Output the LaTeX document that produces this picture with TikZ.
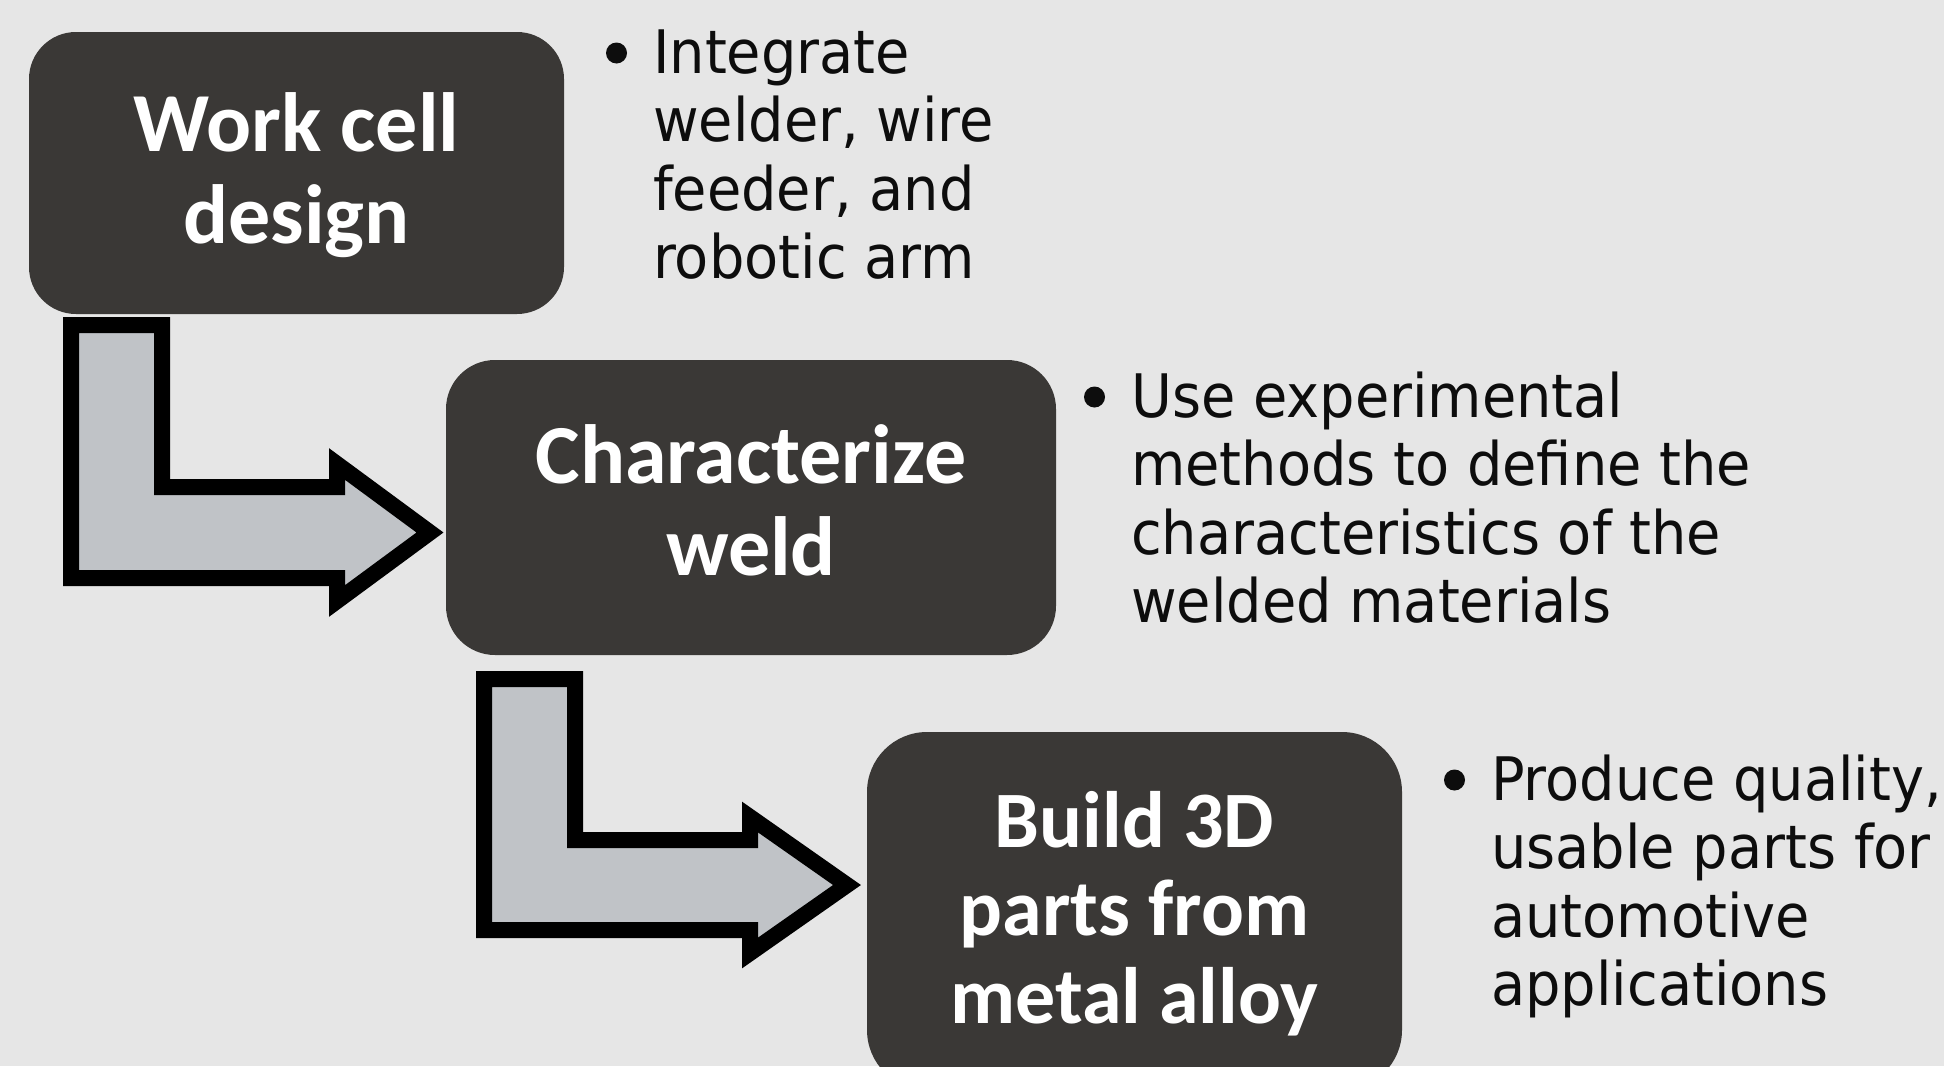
\documentclass[tikz,border=0pt]{standalone}
\usepackage{fontspec}
\newfontfamily\boxfont{Carlito}
\newfontfamily\bulletfont{DejaVu Sans}[FakeStretch=0.93]
\definecolor{bgc}{HTML}{E6E6E6}
\definecolor{boxc}{HTML}{3A3836}
\definecolor{arrowc}{HTML}{C0C3C7}
\definecolor{txtc}{HTML}{0D0D0D}
\begin{document}
\begin{tikzpicture}[x=1pt,y=-1pt,
  stepbox/.style={fill=boxc,draw=none,inner sep=0pt,rectangle},
  boxtext/.style={text=white,inner sep=0pt,anchor=base,font=\boxfont\bfseries\fontsize{84}{92}\selectfont},
  bullettext/.style={text=txtc,inner sep=0pt,anchor=base west,font=\bulletfont\fontsize{60}{68.5}\selectfont},
  bendarrow/.style={fill=arrowc,draw=black,line width=16pt,miter limit=10}]
\clip (0,0) rectangle (1944,1066);
\fill[bgc] (0,0) rectangle (1944,1066);

% boxes
\node[stepbox,rounded corners=47pt,minimum width=535pt,minimum height=282pt] (b1) at (296.5,173) {};
\node[stepbox,rounded corners=49pt,minimum width=610pt,minimum height=295pt] (b2) at (751,507.5) {};
\node[stepbox,rounded corners=60pt,minimum width=535pt,minimum height=358pt] (b3) at (1134.5,911) {};

% box texts
\node[boxtext] (t1) at ([yshift=22pt]b1.center) {\vtop{\halign{\hfil#\hfil\cr Work cell\cr design\cr}}};
\node[boxtext] (t2) at ([yshift=24.5pt]b2.center) {\vtop{\halign{\hfil#\hfil\cr Characterize\cr weld\cr}}};
\node[boxtext,font=\boxfont\bfseries\fontsize{80}{88}\selectfont] (t3) at ([yshift=64pt]b3.center) {\vtop{\halign{\hfil#\hfil\cr Build 3D\cr parts from\cr metal alloy\cr}}};

% bent arrows
\draw[bendarrow] (71,325) -- (162,325) -- (162,487) -- (337,487) -- (337,464)
  -- (430,532.5) -- (337,601) -- (337,578) -- (71,578) -- cycle;
\draw[bendarrow] (484,679) -- (575,679) -- (575,840) -- (750,840) -- (750,817)
  -- (847,885) -- (750,953) -- (750,930) -- (484,930) -- cycle;

% bullet texts
\node[bullettext] (p1) at (653,73) {\vtop{\hbox{Integrate}\hbox{welder, wire}\hbox{feeder, and}\hbox{robotic arm}}};
\node[bullettext] (p2) at (1131,417) {\vtop{\hbox{Use experimental}\hbox{methods to define the}\hbox{characteristics of the}\hbox{welded materials}}};
\node[bullettext] (p3) at (1491,800) {\vtop{\hbox{Produce quality,}\hbox{usable parts for}\hbox{automotive}\hbox{applications}}};

% bullets
\fill[txtc] ([shift={(-36.5,-20)}]p1.base west) circle (10.5);
\fill[txtc] ([shift={(-36.5,-20)}]p2.base west) circle (10.5);
\fill[txtc] ([shift={(-36.5,-20)}]p3.base west) circle (10.5);
\end{tikzpicture}
\end{document}
